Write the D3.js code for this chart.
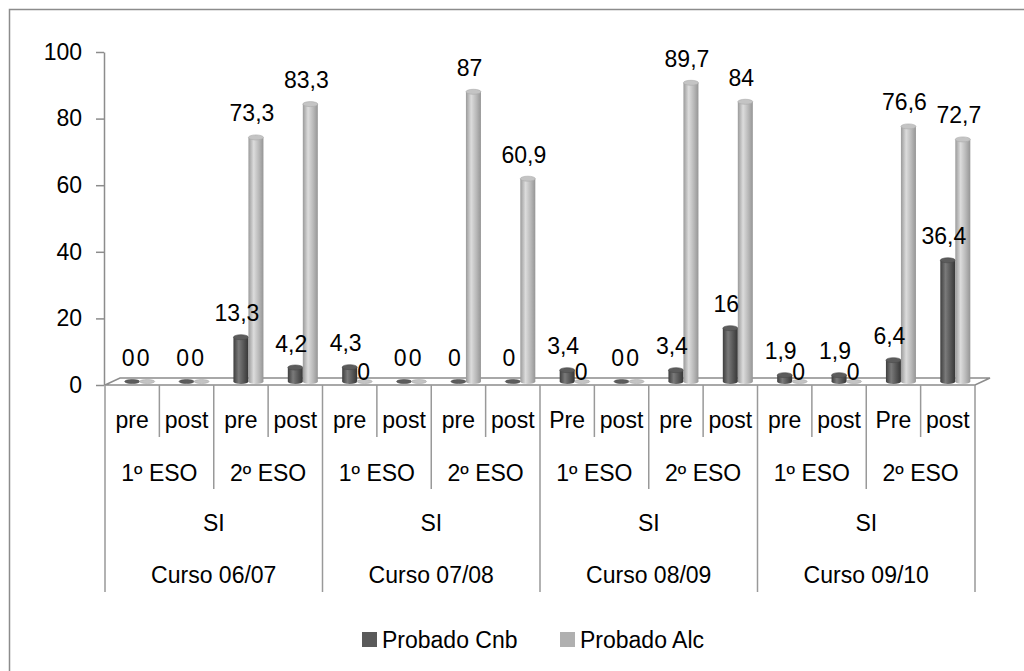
<!DOCTYPE html>
<html>
<head>
<meta charset="utf-8">
<script src="https://cdn.jsdelivr.net/npm/d3@7"></script>
<style>
  body { margin: 0; background: #fff; }
  text { font-family: "Liberation Sans", Arial, sans-serif; }
</style>
</head>
<body>
<div id="chart"></div>
<script>
// data
const courses = ["Curso 06/07", "Curso 07/08", "Curso 08/09", "Curso 09/10"];
const groups = ["SI", "SI", "SI", "SI"];
const levels = ["1º ESO", "2º ESO", "1º ESO", "2º ESO", "1º ESO", "2º ESO", "1º ESO", "2º ESO"];
const phases = ["pre", "post", "pre", "post", "pre", "post", "pre", "post",
                "Pre", "post", "pre", "post", "pre", "post", "Pre", "post"];
const cnb = [0, 0, 13.3, 4.2, 4.3, 0, 0, 0, 3.4, 0, 3.4, 16, 1.9, 1.9, 6.4, 36.4];
const alc = [0, 0, 73.3, 83.3, 0, 0, 87, 60.9, 0, 0, 89.7, 84, 0, 0, 76.6, 72.7];
const yTicks = [0, 20, 40, 60, 80, 100];
const seriesNames = ["Probado Cnb", "Probado Alc"];

const W = 1024, H = 671;
const depthX = 15, depthY = -7;
const fontSize = 23;

const svg = d3.select("#chart").append("svg")
    .attr("width", W)
    .attr("height", H);

// outer chart border
svg.append("rect")
    .attr("x", 9.5).attr("y", 9.5)
    .attr("width", 1100).attr("height", 700)
    .attr("fill", "none")
    .attr("stroke", "#8c8c8c")
    .attr("stroke-width", 1.5);

const x = d3.scaleBand()
    .domain(d3.range(phases.length))
    .range([105, 975]);

const y = d3.scaleLinear()
    .domain([0, 100])
    .range([385, 52]);

// gradients for cylinders
const defs = svg.append("defs");
function grad(id, stops) {
    const g = defs.append("linearGradient").attr("id", id)
        .attr("x1", "0%").attr("x2", "100%").attr("y1", "0%").attr("y2", "0%");
    stops.forEach(s => g.append("stop").attr("offset", s[0]).attr("stop-color", s[1]));
}
grad("gDark", [["0%", "#3e3e3e"], ["35%", "#7a7a7a"], ["70%", "#555"], ["100%", "#363636"]]);
grad("gLight", [["0%", "#9a9a9a"], ["35%", "#dcdcdc"], ["70%", "#b8b8b8"], ["100%", "#959595"]]);

// floor
const x0 = x.range()[0], x1 = x.range()[1], yb = y(0);
svg.append("path")
    .attr("d", `M${x0},${yb}L${x0 + depthX},${yb + depthY}L${x1 + depthX},${yb + depthY}L${x1},${yb}Z`)
    .attr("fill", "#fff")
    .attr("stroke", "#8c8c8c")
    .attr("stroke-width", 1.5);

// value axis
const yAxis = svg.append("g")
    .attr("transform", `translate(${x0 - 1},0)`)
    .call(d3.axisLeft(y).tickValues(yTicks).tickSize(8).tickSizeOuter(0).tickPadding(14));
yAxis.select(".domain").attr("stroke", "#8c8c8c").attr("stroke-width", 1.5);
yAxis.selectAll(".tick line").attr("stroke", "#8c8c8c").attr("stroke-width", 1.5);
yAxis.selectAll(".tick text")
    .attr("font-size", fontSize)
    .attr("font-family", "Liberation Sans, Arial, sans-serif")
    .attr("fill", "#000");

// cylinders
const barW = 15, rx = barW / 2, ry = 2.5;
const midY = depthY / 2;
const bars = [];
cnb.forEach((v, i) => bars.push({ v: v, i: i, s: 0 }));
alc.forEach((v, i) => bars.push({ v: v, i: i, s: 1 }));
bars.forEach(d => {
    d.cx = x(d.i) + x.bandwidth() / 2 + d.s * barW;
    d.base = y(0) + midY;
    d.top = y(d.v) + midY;
    // a zero label next to a non-zero partner sits lower, on the floor
    d.low = d.s === 1 && d.v === 0 && cnb[d.i] > 0;
});

const barG = svg.append("g");
const bar = barG.selectAll("g.bar")
    .data(bars)
    .enter().append("g").attr("class", "bar");

bar.filter(d => d.v > 0).append("ellipse")
    .attr("cx", d => d.cx).attr("cy", d => d.base)
    .attr("rx", rx).attr("ry", ry)
    .attr("fill", d => d.s === 0 ? "url(#gDark)" : "url(#gLight)");
bar.filter(d => d.v > 0).append("rect")
    .attr("x", d => d.cx - rx).attr("y", d => d.top)
    .attr("width", barW).attr("height", d => d.base - d.top)
    .attr("fill", d => d.s === 0 ? "url(#gDark)" : "url(#gLight)");
bar.append("ellipse")
    .attr("cx", d => d.cx).attr("cy", d => d.top)
    .attr("rx", rx).attr("ry", d => d.v > 0 ? ry : 2)
    .attr("fill", d => d.s === 0 ? "#5c5c5c" : "#c4c4c4")
    .attr("stroke", d => d.s === 0 ? "#4a4a4a" : "#aaa")
    .attr("stroke-width", 0.6);

// data labels
const fmt = v => String(v).replace(".", ",");
svg.append("g").selectAll("text")
    .data(bars)
    .enter().append("text")
    .attr("x", d => d.low ? d.cx - 1 : d.cx - 4)
    .attr("y", d => d.low ? d.top - 10 : d.top - 24)
    .attr("dy", "0.35em")
    .attr("text-anchor", "middle")
    .attr("font-size", fontSize)
    .attr("fill", "#000")
    .text(d => fmt(d.v));

// multi-level category axis
const axisG = svg.append("g");
const lineCol = "#999";
const rows = [
    { labels: phases, span: 1, yc: 420 },
    { labels: levels, span: 2, yc: 473 },
    { labels: groups, span: 4, yc: 523 },
    { labels: courses, span: 4, yc: 575 }
];
rows.forEach(r => {
    axisG.selectAll(null)
        .data(r.labels)
        .enter().append("text")
        .attr("x", (d, k) => x(k * r.span) + x.bandwidth() * r.span / 2)
        .attr("y", r.yc)
        .attr("dy", "0.35em")
        .attr("text-anchor", "middle")
        .attr("font-size", fontSize)
        .attr("fill", "#000")
        .text(d => d);
});
// divider lines, longer at the wider group boundaries
const bounds = d3.range(phases.length + 1);
axisG.selectAll("line")
    .data(bounds)
    .enter().append("line")
    .attr("x1", k => k === phases.length ? x1 : x(k))
    .attr("x2", k => k === phases.length ? x1 : x(k))
    .attr("y1", y(0))
    .attr("y2", k => k % 4 === 0 ? 592 : (k % 2 === 0 ? 489 : 437))
    .attr("stroke", lineCol)
    .attr("stroke-width", 1.5);

// legend
const legend = svg.append("g");
const legendItems = [
    { name: seriesNames[0], color: "#5a5a5a", x: 362 },
    { name: seriesNames[1], color: "#b0b0b0", x: 560 }
];
legendItems.forEach(l => {
    legend.append("rect")
        .attr("x", l.x).attr("y", 632)
        .attr("width", 15).attr("height", 15)
        .attr("fill", l.color);
    legend.append("text")
        .attr("x", l.x + 20).attr("y", 640)
        .attr("dy", "0.35em")
        .attr("font-size", fontSize)
        .attr("fill", "#000")
        .text(l.name);
});
</script>
</body>
</html>
